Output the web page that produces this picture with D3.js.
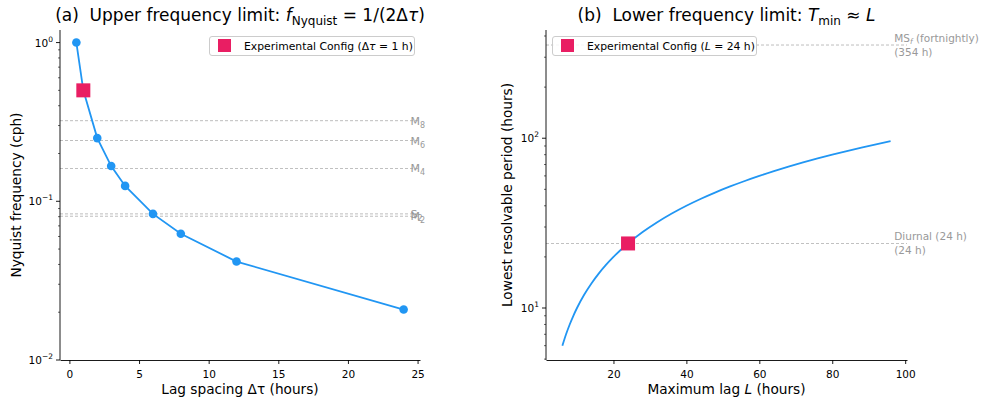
<!DOCTYPE html>
<html><head><meta charset="utf-8">
<script src="https://cdn.jsdelivr.net/npm/d3@7"></script>
<style>
body{margin:0;background:#fff;}
svg{font-family:"DejaVu Sans",sans-serif;}
</style></head>
<body><svg id="c" width="984" height="403"></svg>
<script>
// ---- data ----
const lagSpacing = [0.5, 1, 2, 3, 4, 6, 8, 12, 24];
const nyquistFreq = [1.0, 0.5, 0.25, 0.1667, 0.125, 0.0833, 0.0625, 0.0417, 0.0208];
const expLagSpacing = 1;
const expNyquist = 0.5;
const tidalNames = ["M8", "M6", "M4", "S2", "M2"];
const tidalFreqs = [0.322, 0.2415, 0.161, 0.0833, 0.0805];

const maxLag = [6, 7, 8, 9, 10, 12, 14, 16, 18, 20, 24, 28, 32, 36, 40, 44, 48, 52, 56, 60, 64, 68, 72, 76, 80, 84, 88, 92, 96];
const minPeriod = [6, 7, 8, 9, 10, 12, 14, 16, 18, 20, 24, 28, 32, 36, 40, 44, 48, 52, 56, 60, 64, 68, 72, 76, 80, 84, 88, 92, 96];
const expMaxLag = 24;
const expPeriod = 24;
const refPeriods = [354, 24];
const refLabels = [["MSf (fortnightly)", "(354 h)"], ["Diurnal (24 h)", "(24 h)"]];

const xTicksA = [0, 5, 10, 15, 20, 25];
const xTicksB = [20, 40, 60, 80, 100];

// ---- style ----
const BLUE = "#2196F3", PINK = "#E91E63", GRAY = "#999";
const svg = d3.select("#c");

function logAxisLeft(g, y, decades, x0) {
  decades.forEach(e => {
    const v = Math.pow(10, e);
    const yy = y(v);
    g.append("line").attr("x1", x0 - 4).attr("x2", x0).attr("y1", yy).attr("y2", yy).attr("stroke", "#000").attr("stroke-width", 0.9);
    const t = g.append("text").attr("x", x0 - 7).attr("y", yy + 4).attr("text-anchor", "end").attr("font-size", 10.5);
    t.append("tspan").text("10");
    t.append("tspan").attr("dy", -5).attr("font-size", 7.5).text(e < 0 ? "\u2212" + (-e) : e);
  });
  const [d0, d1] = y.domain();
  for (let e = Math.floor(Math.log10(d0)); e <= Math.ceil(Math.log10(d1)); e++) {
    for (let m = 2; m <= 9; m++) {
      const v = m * Math.pow(10, e);
      if (v < d0 || v > d1) continue;
      const yy = y(v);
      g.append("line").attr("x1", x0 - 2).attr("x2", x0).attr("y1", yy).attr("y2", yy).attr("stroke", "#000").attr("stroke-width", 0.6);
    }
  }
}

function xAxis(g, x, ticks, yb) {
  const ax = d3.axisBottom(x).tickValues(ticks).tickSize(4).tickSizeOuter(0).tickFormat(d3.format("d"));
  const a = g.append("g").attr("transform", `translate(0,${yb})`).call(ax);
  a.select(".domain").attr("stroke-width", 0.9);
  a.selectAll(".tick line").attr("stroke-width", 0.9);
  a.selectAll("text").attr("font-size", 10.5).attr("font-family", "DejaVu Sans").attr("dy", "1.0em");
}

// ---- panel A ----
const A = {l: 60, r: 420, t: 30, b: 360};
const xA = d3.scaleLinear().domain([-0.675, 25.175]).range([A.l, A.r]);
const yA = d3.scaleLog().domain([0.01, 1.2]).range([A.b, A.t]);
const gA = svg.append("g");

tidalFreqs.forEach((f, i) => {
  gA.append("line").attr("x1", A.l).attr("x2", A.r).attr("y1", yA(f)).attr("y2", yA(f))
    .attr("stroke", GRAY).attr("stroke-width", 0.8).attr("stroke-dasharray", "3,2").attr("opacity", 0.8);
  const t = gA.append("text").attr("x", xA(24.5)).attr("y", yA(f) + 4).attr("font-size", 11).attr("fill", "#999");
  t.append("tspan").text(tidalNames[i][0]);
  t.append("tspan").attr("dy", 3).attr("font-size", 8).text(tidalNames[i].slice(1));
});

const lineA = d3.line().x((d, i) => xA(lagSpacing[i])).y((d, i) => yA(nyquistFreq[i]));
gA.append("path").attr("d", lineA(lagSpacing)).attr("fill", "none").attr("stroke", BLUE).attr("stroke-width", 1.8);
lagSpacing.forEach((d, i) => {
  gA.append("circle").attr("cx", xA(d)).attr("cy", yA(nyquistFreq[i])).attr("r", 4.3).attr("fill", BLUE);
});
gA.append("rect").attr("x", xA(expLagSpacing) - 7).attr("y", yA(expNyquist) - 7).attr("width", 14).attr("height", 14).attr("fill", PINK);

gA.append("line").attr("x1", A.l).attr("x2", A.l).attr("y1", A.t).attr("y2", A.b).attr("stroke", "#000").attr("stroke-width", 0.9);
logAxisLeft(gA, yA, [-2, -1, 0], A.l);
xAxis(gA, xA, xTicksA, A.b);

// title A
{
  const t = svg.append("text").attr("x", (A.l + A.r) / 2).attr("y", 21).attr("text-anchor", "middle").attr("font-size", 17);
  t.append("tspan").text("(a)\u00a0\u00a0Upper frequency limit: ");
  t.append("tspan").attr("font-style", "italic").text("f");
  t.append("tspan").attr("dy", 4).attr("font-size", 12).text("Nyquist");
  t.append("tspan").attr("dy", -4).text(" = 1/(2\u0394");
  t.append("tspan").attr("font-style", "italic").text("\u03C4");
  t.append("tspan").text(")");
}
svg.append("text").attr("transform", `translate(21,${(A.t + A.b) / 2}) rotate(-90)`).attr("text-anchor", "middle").attr("font-size", 13.7).text("Nyquist frequency (cph)");
svg.append("text").attr("x", (A.l + A.r) / 2).attr("y", 394).attr("text-anchor", "middle").attr("font-size", 13.7).text("Lag spacing \u0394\u03C4 (hours)");

// legend A
{
  const g = svg.append("g");
  g.append("rect").attr("x", 209.5).attr("y", 36.5).attr("width", 205).attr("height", 19).attr("rx", 2.5).attr("fill", "#fff").attr("fill-opacity", 0.85).attr("stroke", "#ccc");
  g.append("rect").attr("x", 218).attr("y", 39).attr("width", 13).attr("height", 13).attr("fill", PINK);
  const t = g.append("text").attr("x", 244).attr("y", 50).attr("font-size", 10.8);
  t.append("tspan").text("Experimental Config (\u0394");
  t.append("tspan").attr("font-style", "italic").text("\u03C4");
  t.append("tspan").text(" = 1 h)");
}

// ---- panel B ----
const B = {l: 546, r: 907, t: 30, b: 360};
const xB = d3.scaleLinear().domain([1.5, 100.5]).range([B.l, B.r]);
const yB = d3.scaleLog().domain([4.94, 434]).range([B.b, B.t]);
const gB = svg.append("g");

refPeriods.forEach((p, i) => {
  gB.append("line").attr("x1", B.l).attr("x2", B.r).attr("y1", yB(p)).attr("y2", yB(p))
    .attr("stroke", GRAY).attr("stroke-width", 0.8).attr("stroke-dasharray", "3,2").attr("opacity", 0.8);
  const t = gB.append("text").attr("x", xB(97)).attr("y", yB(p) - 3).attr("font-size", 10.5).attr("fill", "#999");
  if (i === 0) {
    t.append("tspan").text("MS");
    t.append("tspan").attr("dy", 2).attr("font-size", 7.5).attr("font-style", "italic").text("f");
    t.append("tspan").attr("dy", -2).text(" (fortnightly)");
  } else {
    t.append("tspan").text(refLabels[i][0]);
  }
  gB.append("text").attr("x", xB(97)).attr("y", yB(p) + 10.5).attr("font-size", 10.5).attr("fill", "#999").text(refLabels[i][1]);
});

const lineB = d3.line().x((d, i) => xB(maxLag[i])).y((d, i) => yB(minPeriod[i])).curve(d3.curveMonotoneX);
gB.append("path").attr("d", lineB(maxLag)).attr("fill", "none").attr("stroke", BLUE).attr("stroke-width", 1.8);
gB.append("rect").attr("x", xB(expMaxLag) - 7).attr("y", yB(expPeriod) - 7).attr("width", 14).attr("height", 14).attr("fill", PINK);

gB.append("line").attr("x1", B.l).attr("x2", B.l).attr("y1", B.t).attr("y2", B.b).attr("stroke", "#000").attr("stroke-width", 0.9);
logAxisLeft(gB, yB, [1, 2], B.l);
xAxis(gB, xB, xTicksB, B.b);

{
  const t = svg.append("text").attr("x", (B.l + B.r) / 2).attr("y", 21).attr("text-anchor", "middle").attr("font-size", 17);
  t.append("tspan").text("(b)\u00a0\u00a0Lower frequency limit: ");
  t.append("tspan").attr("font-style", "italic").text("T");
  t.append("tspan").attr("dy", 4).attr("font-size", 12).text("min");
  t.append("tspan").attr("dy", -4).text(" \u2248 ");
  t.append("tspan").attr("font-style", "italic").text("L");
}
svg.append("text").attr("transform", `translate(512,${(B.t + B.b) / 2}) rotate(-90)`).attr("text-anchor", "middle").attr("font-size", 13.7).text("Lowest resolvable period (hours)");
{
  const t = svg.append("text").attr("x", (B.l + B.r) / 2).attr("y", 394).attr("text-anchor", "middle").attr("font-size", 13.7);
  t.append("tspan").text("Maximum lag ");
  t.append("tspan").attr("font-style", "italic").text("L");
  t.append("tspan").text(" (hours)");
}
{
  const g = svg.append("g");
  g.append("rect").attr("x", 552.5).attr("y", 36.5).attr("width", 204).attr("height", 19).attr("rx", 2.5).attr("fill", "#fff").attr("fill-opacity", 0.85).attr("stroke", "#ccc");
  g.append("rect").attr("x", 561).attr("y", 39).attr("width", 13).attr("height", 13).attr("fill", PINK);
  const t = g.append("text").attr("x", 587).attr("y", 50).attr("font-size", 10.8);
  t.append("tspan").text("Experimental Config (");
  t.append("tspan").attr("font-style", "italic").text("L");
  t.append("tspan").text(" = 24 h)");
}
</script></body></html>
